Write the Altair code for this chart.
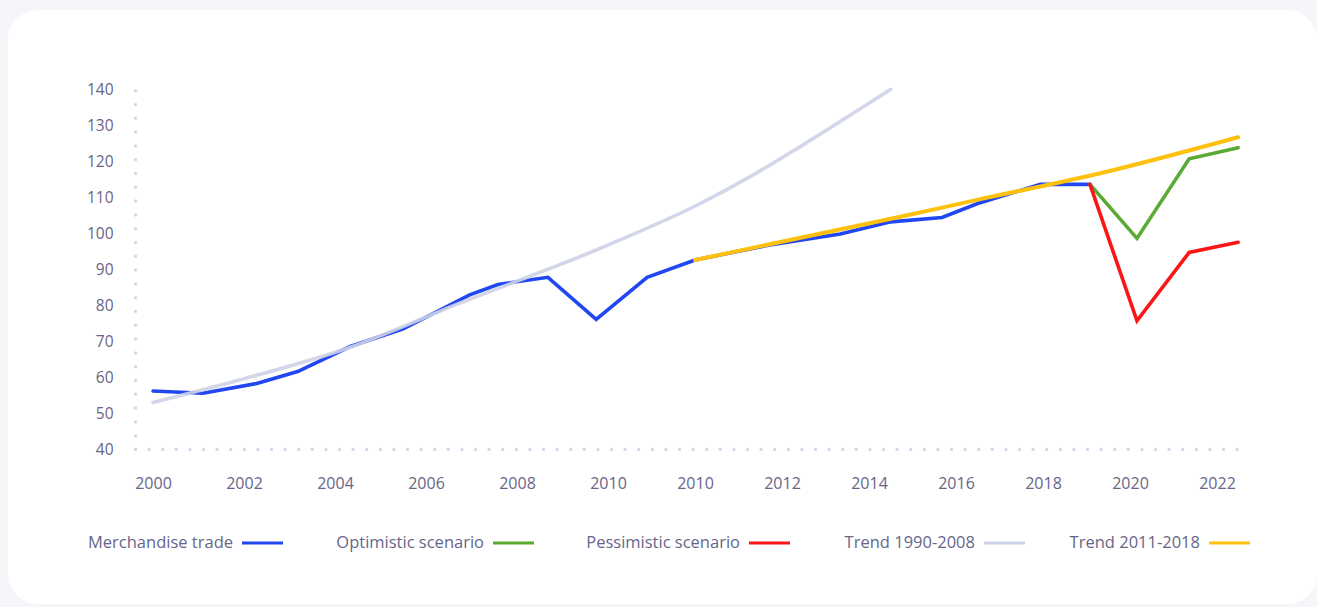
import json
import altair as alt
import pandas as pd

# ---- data (x in axis-slot units: slot k sits under the k-th year label) ----
x_labels = ["2000", "2002", "2004", "2006", "2008", "2010", "2010",
            "2012", "2014", "2016", "2018", "2020", "2022"]
y_ticks = [40, 50, 60, 70, 80, 90, 100, 110, 120, 130, 140]

merch_slot = [0.0, 0.55, 1.14, 1.59, 2.16, 2.75, 3.48, 3.79, 4.34, 4.87,
              5.45, 6.0, 6.86, 7.67, 8.25, 8.84, 9.25, 9.97, 10.54]
merch_val = [56.1, 55.5, 58.2, 61.5, 68.4, 73.4, 82.8, 85.7, 87.7, 76.0,
             87.7, 92.5, 96.7, 99.7, 103.1, 104.3, 108.2, 113.5, 113.5]

optimistic_slot = [10.54, 11.08, 11.68, 12.24]
optimistic_val = [113.5, 98.5, 120.6, 123.7]

pessimistic_slot = [10.54, 11.08, 11.68, 12.24]
pessimistic_val = [113.5, 75.6, 94.6, 97.4]

trend_old_slot = [0.0, 1.0, 2.16, 3.37, 4.91, 6.06, 6.63, 7.21, 8.25]
trend_old_val = [52.9, 59.5, 68.2, 80.5, 95.7, 108.2, 115.6, 124.0, 139.9]

trend_new_slot = [6.0, 8.36, 9.28, 10.66, 12.24]
trend_new_val = [92.5, 104.5, 109.4, 116.6, 126.6]

series_names = ["Merchandise trade", "Optimistic scenario", "Pessimistic scenario",
                "Trend 1990-2008", "Trend 2011-2018"]
series_colors = ["#2147f3", "#5aaa33", "#fb1616", "#cdd2e6", "#fdc10d"]

# ---- layout ----
W, H = 1102, 360
PAD = {"left": 135, "top": 89, "right": 80, "bottom": 158}
TEXT = "#676589"
DOTS = "#d5d8ea"
FONT = "Open Sans"

# piecewise x scale: the first label block is spaced a little wider than the second
x_enc = alt.X(
    "slot:Q",
    scale=alt.Scale(domain=[-0.2, 0, 5, 12, 12.25],
                    range=[0, 18, 473, 1082, 1104], nice=False, zero=False),
    axis=alt.Axis(
        values=list(range(len(x_labels))),
        labelExpr=f"{json.dumps(x_labels)}[datum.value]",
        title=None, ticks=False, grid=False, zindex=1,
        domainDash=[0, 13.6], domainCap="round", domainWidth=3.5, domainColor=DOTS,
        labelPadding=26, labelFontSize=16, labelColor=TEXT, labelFont=FONT,
        labelOverlap=False, labelFlush=False,
    ),
)
y_enc = alt.Y(
    "val:Q",
    scale=alt.Scale(domain=[40, 140], nice=False, zero=False),
    axis=alt.Axis(
        values=y_ticks, title=None, ticks=False, grid=False, zindex=1,
        domainDash=[0, 13.8], domainCap="round", domainWidth=3.5, domainColor=DOTS,
        labelPadding=22, labelFontSize=15.5, labelColor=TEXT, labelFont=FONT,
        labelFlush=False,
    ),
)


def line(slots, vals, color, width, interp="linear", opacity=1.0):
    df = pd.DataFrame({"slot": slots, "val": vals})
    return alt.Chart(df).mark_line(
        color=color, strokeWidth=width, interpolate=interp, opacity=opacity,
        strokeCap="round", strokeJoin="miter",
    ).encode(x=x_enc, y=y_enc)


one = alt.Data(values=[{}])

# white rounded card behind the plot
card = alt.Chart(one).mark_rect(color="white", cornerRadius=30).encode(
    x=alt.value(-127), x2=alt.value(1182), y=alt.value(-79), y2=alt.value(515)
)

layers = [
    card,
    line(merch_slot, merch_val, series_colors[0], 3.6),
    line(trend_old_slot, trend_old_val, series_colors[3], 3.6, "monotone", 0.9),
    line(optimistic_slot, optimistic_val, series_colors[1], 3.6),
    line(pessimistic_slot, pessimistic_val, series_colors[2], 3.6),
    line(trend_new_slot, trend_new_val, series_colors[4], 4.0, "monotone"),
]

# legend row: label, then a short swatch line to its right
legend_line_left = [107, 358, 614, 849, 1074]
legend_y = 454
for name, color, lx in zip(series_names, series_colors, legend_line_left):
    layers.append(
        alt.Chart(one).mark_text(
            align="right", baseline="middle", fontSize=16.5, font=FONT, color=TEXT
        ).encode(x=alt.value(lx - 9), y=alt.value(legend_y), text=alt.value(name))
    )
    layers.append(
        alt.Chart(one).mark_rule(color=color, strokeWidth=3).encode(
            x=alt.value(lx), x2=alt.value(lx + 41), y=alt.value(legend_y)
        )
    )

chart = (
    alt.layer(*layers)
    .properties(width=W, height=H, padding=PAD, autosize="none", background="#f6f6fa")
    .configure_view(stroke=None)
)

chart.save("out.html", embed_options={"renderer": "svg", "actions": False})
